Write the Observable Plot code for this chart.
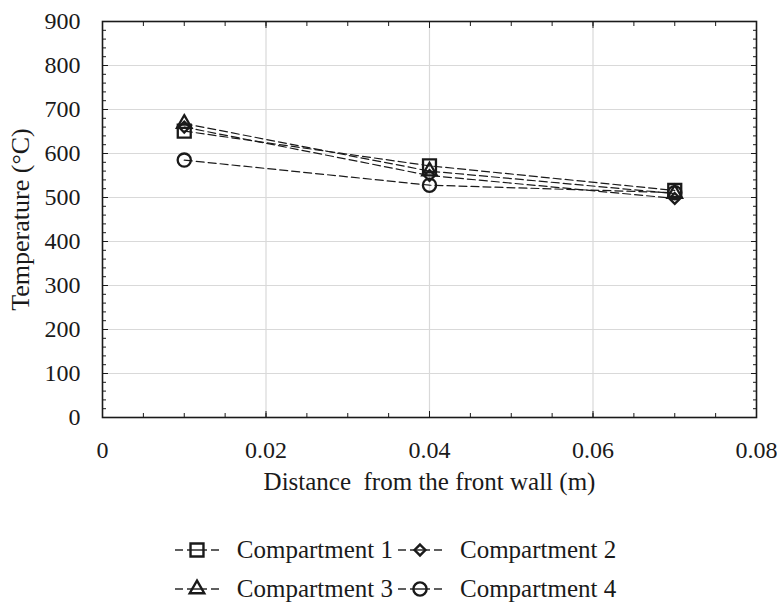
<!DOCTYPE html>
<html>
<head>
<meta charset="utf-8">
<script src="https://cdn.jsdelivr.net/npm/d3@7"></script>
<script src="https://cdn.jsdelivr.net/npm/@observablehq/plot@0.6"></script>
<style>
  body { margin: 0; background: #fff; font-family: "Liberation Serif", "DejaVu Serif", serif; }
  #legend { width: 777px; padding-top: 25px; color: #1a1a1a; font-size: 25px; box-sizing: border-box; padding-left: 13px; }
  .row { display: flex; justify-content: center; height: 39px; align-items: center; }
  .item { display: flex; align-items: center; margin: 0 2px; }
  .item svg { margin-right: 11px; }
</style>
</head>
<body>
<div id="chart"></div>
<div id="legend"></div>
<script>
// ---- data ----
const distances = [0.01, 0.04, 0.07];
const seriesNames = ["Compartment 1", "Compartment 2", "Compartment 3", "Compartment 4"];
const comp1 = [651, 572, 516];
const comp2 = [660, 550, 498];
const comp3 = [668, 560, 509];
const comp4 = [585, 528, 511];
const xTickLabels = [0, 0.02, 0.04, 0.06, 0.08];
const yTickLabels = [0, 100, 200, 300, 400, 500, 600, 700, 800, 900];

const allValues = [comp1, comp2, comp3, comp4];
const data = [];
seriesNames.forEach((s, i) => distances.forEach((d, j) => data.push({series: s, x: d, y: allValues[i][j]})));

// styling
const symbols = ["square", "diamond2", "triangle", "circle"];
const radii = [7.3, 4.9, 5.4, 6.6];
const ink = "#1a1a1a";

const xMinor = d3.range(0, 0.0801, 0.005);
const yMinor = d3.range(0, 901, 20);

const marks = [
  Plot.gridX([0.02, 0.04, 0.06], {stroke: "#d9d9d9", strokeOpacity: 1, strokeWidth: 1.2}),
  Plot.gridY(d3.range(100, 900, 100), {stroke: "#d9d9d9", strokeOpacity: 1, strokeWidth: 1.2}),
  // inward minor ticks on four sides
  Plot.axisX(xMinor, {anchor: "bottom", tickSize: -4, tickFormat: () => "", label: null, stroke: ink}),
  Plot.axisX(xMinor, {anchor: "top", tickSize: -4, tickFormat: () => "", label: null, stroke: ink}),
  Plot.axisY(yMinor, {anchor: "left", tickSize: -4, tickFormat: () => "", label: null, stroke: ink}),
  Plot.axisY(yMinor, {anchor: "right", tickSize: -4, tickFormat: () => "", label: null, stroke: ink}),
  // inward major ticks
  Plot.axisX(xTickLabels, {anchor: "bottom", tickSize: -6, tickFormat: () => "", label: null, stroke: ink}),
  Plot.axisX(xTickLabels, {anchor: "top", tickSize: -6, tickFormat: () => "", label: null, stroke: ink}),
  Plot.axisY(yTickLabels, {anchor: "left", tickSize: -6, tickFormat: () => "", label: null, stroke: ink}),
  Plot.axisY(yTickLabels, {anchor: "right", tickSize: -6, tickFormat: () => "", label: null, stroke: ink}),
  // labels
  Plot.axisX(xTickLabels, {anchor: "bottom", tickSize: 0, tickPadding: 23, fontSize: 24,
    tickFormat: d => d === 0 ? "0" : d.toFixed(2), fill: ink,
    label: null}),
  Plot.axisX(xTickLabels, {anchor: "bottom", tickSize: 0, tickFormat: () => "", fontSize: 25, fill: ink,
    label: "Distance  from the front wall (m)", labelAnchor: "center", labelArrow: "none", labelOffset: 72}),
  Plot.axisY(yTickLabels, {anchor: "left", tickSize: 0, tickPadding: 22, tickFormat: d => String(d), fontSize: 24, fill: ink,
    label: null}),
  Plot.axisY(yTickLabels, {anchor: "left", tickSize: 0, tickFormat: () => "", fontSize: 26, fill: ink,
    label: "Temperature (°C)", labelAnchor: "center", labelArrow: "none", labelOffset: 92}),
  Plot.line(data, {x: "x", y: "y", z: "series", stroke: ink, strokeWidth: 1.2, strokeDasharray: "8,4"}),
];
seriesNames.forEach((s, i) => {
  marks.push(Plot.dot(data.filter(d => d.series === s), {
    x: "x", y: "y", symbol: () => symbols[i], r: radii[i], stroke: ink, fill: "none", strokeWidth: 2.3
  }));
});
marks.push(Plot.frame({stroke: ink, strokeWidth: 1.6}));

const chart = Plot.plot({
  width: 777,
  height: 505,
  marginLeft: 102,
  marginRight: 21,
  marginTop: 21,
  marginBottom: 88,
  style: {fontFamily: "'Liberation Serif', 'Times New Roman', serif", fontSize: "24px", color: ink, background: "#fff", overflow: "visible"},
  x: {domain: [0, 0.08]},
  y: {domain: [0, 900]},
  symbol: {type: "identity"},
  marks
});
document.getElementById("chart").appendChild(chart);

// ---- legend ----
const legend = document.getElementById("legend");
const symbolTypes = [d3.symbolSquare, d3.symbolDiamond2, d3.symbolTriangle, d3.symbolCircle];
const rows = [[0, 1], [2, 3]];
rows.forEach(r => {
  const row = document.createElement("div");
  row.className = "row";
  r.forEach(i => {
    const item = document.createElement("div");
    item.className = "item";
    const path = d3.symbol(symbolTypes[i], Math.PI * radii[i] * radii[i])();
    item.innerHTML = `<svg width="52" height="24" viewBox="0 0 52 24">
      <line x1="1" x2="9" y1="12" y2="12" stroke="${ink}" stroke-width="1.4"/>
      <line x1="13" x2="33" y1="12" y2="12" stroke="${ink}" stroke-width="1.4"/>
      <line x1="37" x2="45" y1="12" y2="12" stroke="${ink}" stroke-width="1.4"/>
      <path d="${path}" transform="translate(23,12)" fill="none" stroke="${ink}" stroke-width="2.4"/>
    </svg><span>${seriesNames[i]}</span>`;
    row.appendChild(item);
  });
  legend.appendChild(row);
});
</script>
</body>
</html>
